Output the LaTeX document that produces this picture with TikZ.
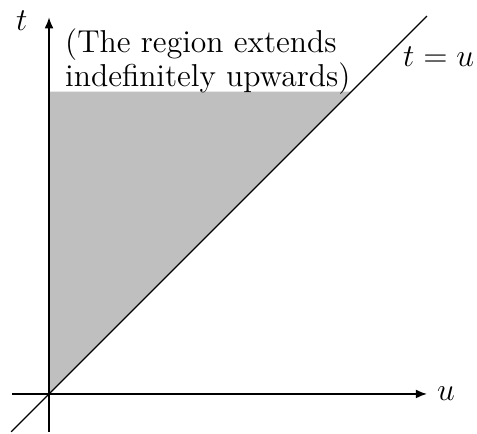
\documentclass[tikz,border=0pt]{standalone}
\usetikzlibrary{arrows.meta, positioning}

\begin{document}
\begin{tikzpicture}[
    axis/.style={-{Latex[length=5pt,width=4pt]},line width=0.7pt},
    lbl/.style={font=\fontsize{14.3pt}{12.6pt}\selectfont},
    x=1cm,y=1cm
]
  \useasboundingbox (-0.778,-0.635) rectangle (6.794,6.254);

  % Points
  \coordinate (O) at (0,0);
  \coordinate (diagS) at (-0.6,-0.6);
  \coordinate (diagN) at (6,6);
  \coordinate (uS) at (-0.59,0);
  \coordinate (uN) at (6,0);
  \coordinate (tS) at (0,-0.6);
  \coordinate (tN) at (0,5.98);
  \coordinate (topL) at (0,4.8);
  \coordinate (topR) at (4.8,4.8);

  % Shaded region
  \fill[gray!50] (O) -- (topL) -- (topR) -- cycle;

  % Axes and diagonal
  \draw[axis] (uS) -- (uN);
  \draw[axis] (tS) -- (tN);
  \draw[line width=0.6pt] (diagS) -- (diagN);

  % Labels
  \node[lbl,right=1pt of uN] (ulbl) {$u$};
  \node[lbl,anchor=east] (tlbl) at (-0.22,5.92) {$t$};
  \node[lbl,anchor=west,inner sep=1pt] (diaglbl) at (5.58,5.35) {$t = u$};
  \node[lbl,anchor=north west,align=left,inner sep=0pt] (note) at (0.25,5.8)
    {(The region extends\\indefinitely upwards)};

\end{tikzpicture}
\end{document}
